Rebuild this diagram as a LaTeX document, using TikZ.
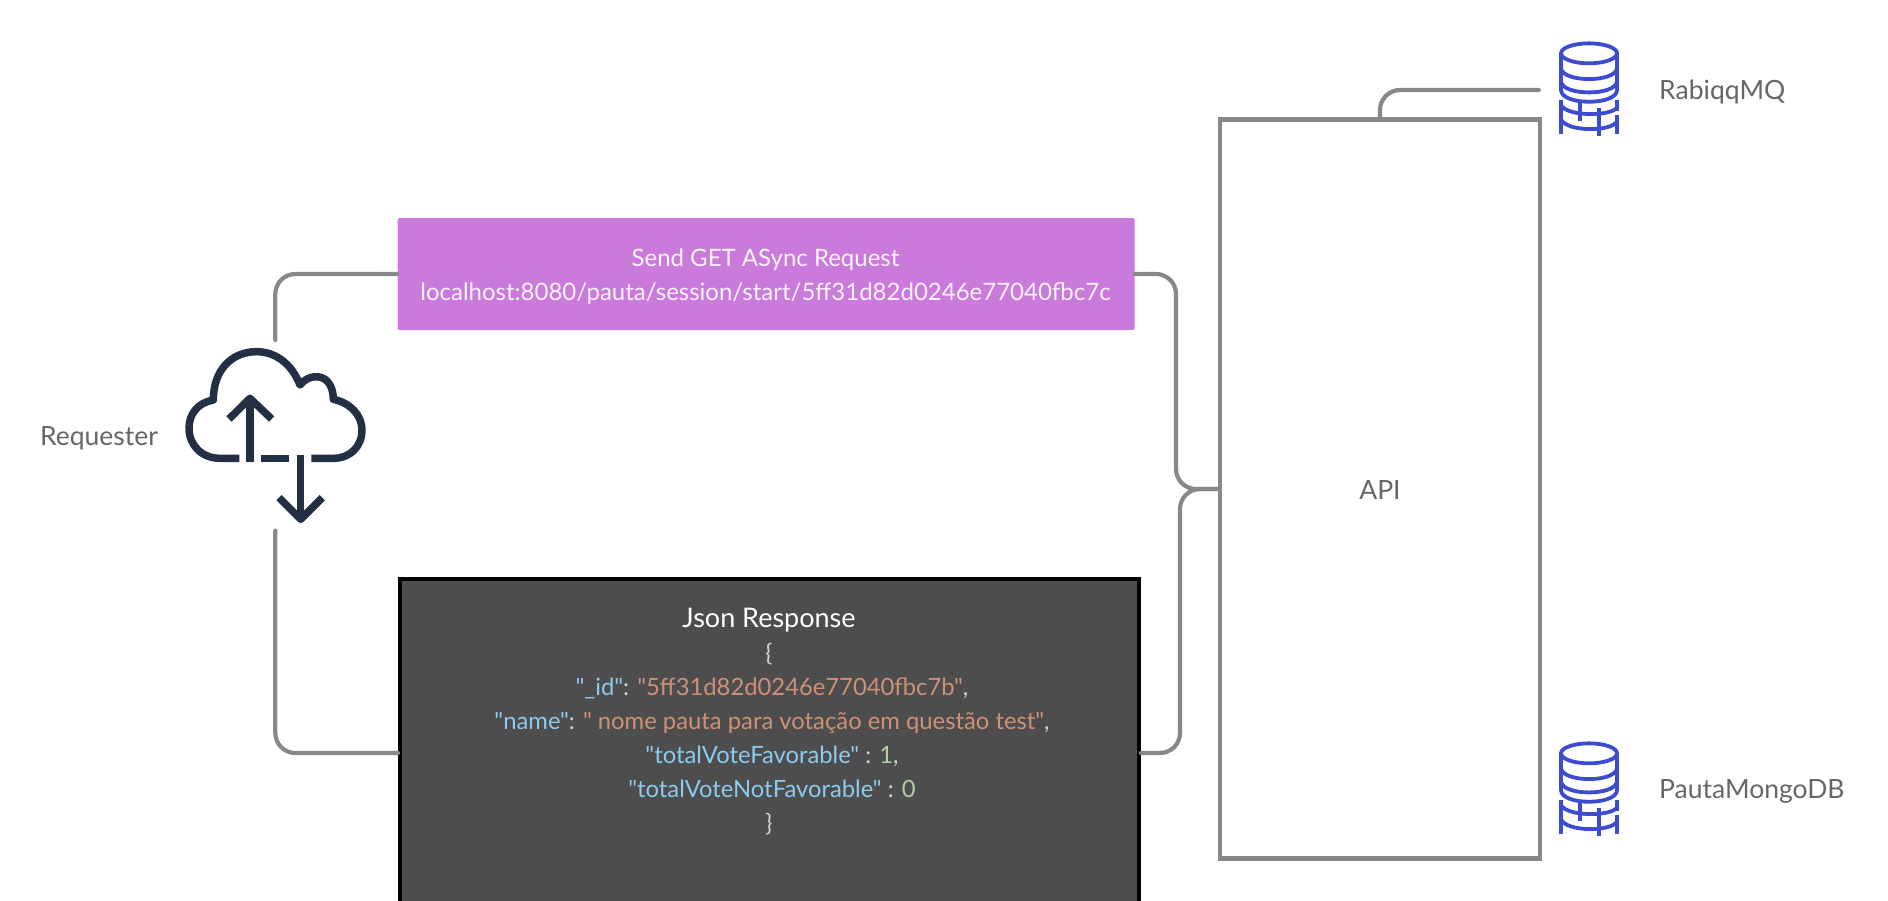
\documentclass[tikz,border=0pt]{standalone}
\usepackage{fontspec}
\setmainfont[Ligatures=TeXOff]{Lato}
\definecolor{LineClr}{HTML}{888888}
\definecolor{LabelClr}{HTML}{666666}
\definecolor{RequestClr}{HTML}{C97ADB}
\definecolor{ResponseClr}{HTML}{4D4D4D}
\definecolor{CloudClr}{HTML}{233044}
\definecolor{DbClr}{HTML}{3D4BCF}
\definecolor{KeyClr}{HTML}{8CCBEE}
\definecolor{StrClr}{HTML}{CE9178}
\definecolor{NumClr}{HTML}{B5CEA8}
\definecolor{PunctClr}{HTML}{D4D4D4}
\newcommand{\keytxt}[1]{\hspace*{6pt}\textcolor{KeyClr}{#1}}
\newcommand{\strtxt}[1]{\textcolor{StrClr}{#1}}
\newcommand{\numtxt}[1]{\textcolor{NumClr}{#1}}
\tikzset{
  label txt/.style={text=LabelClr,font=\fontsize{26.5}{30}\selectfont,inner sep=0pt},
  link/.style={draw=LineClr,line width=4.2pt,rounded corners=20pt,line cap=round},
  iconbox/.style={minimum width=100pt,minimum height=92pt,inner sep=0pt},
  dbicon/.pic={
    \begin{scope}[x=0.3333pt,y=-0.3333pt,shift={(-268,-210)},draw=DbClr,line width=3.8pt]
    \draw (268,100) ellipse [x radius=84,y radius=30];
    \draw (184,100) -- (184,210) .. controls (184,257) and (352,257) .. (352,210) -- (352,100);
    \draw (184,145) .. controls (190,188) and (346,188) .. (352,145);
    \draw (184,185) .. controls (190,228) and (346,228) .. (352,185);
    \draw (184,240) -- (184,342);
    \draw (352,240) -- (352,274) (352,286) -- (352,342);
    \draw (184,255) .. controls (200,290) and (336,290) .. (352,262);
    \draw (184,298) .. controls (200,336) and (336,336) .. (352,304);
    \draw (240,250) -- (240,302);
    \draw (297,264) -- (297,348);
    \end{scope}
  }
}
\begin{document}
\begin{tikzpicture}[x=1pt,y=-1pt]
\useasboundingbox (0,0) rectangle (1888,900);

% boxes
\node[draw=LineClr,line width=4.2pt,minimum width=320pt,minimum height=739pt,inner sep=0pt] (api) at (1380,489) {};
\node[label txt] (apilabel) at (1380,490) {API};

\node[fill=RequestClr,rounded corners=1.5pt,minimum width=737pt,minimum height=112pt,inner sep=0pt] (request) at (766,274) {};
\node[inner sep=0pt,text=white!90!RequestClr,font=\fontsize{24}{34}\selectfont,align=center] (requesttxt) at (765.5,276.5)
  {Send GET ASync Request\\localhost:8080/pauta/session/start/5ff31d82d0246e77040fbc7c};

\node[fill=ResponseClr,draw=black,line width=4pt,minimum width=739pt,minimum height=400pt,inner sep=0pt] (response) at (769.5,779) {};
\node[anchor=north,inner sep=0pt,align=center,text=PunctClr,font=\fontsize{23.8}{34}\selectfont] (responsetxt) at (769,608)
  {{\color{white}\fontsize{27}{34}\selectfont Json Response}\\
   \{\\
   \keytxt{"\_id"}: \strtxt{"5ff31d82d0246e77040fbc7b"},\\
   \keytxt{"name"}: \strtxt{" nome pauta para votação em questão test"},\\
   \keytxt{"totalVoteFavorable"} : \numtxt{1},\\
   \keytxt{"totalVoteNotFavorable"} : \numtxt{0}\\
   \}};

% databases
\node[iconbox] (rabbit) at (1589,90) {};
\node[iconbox] (mongo) at (1589,790) {};
\pic at (1589,90) {dbicon};
\pic at (1589,790) {dbicon};
\node[label txt,anchor=west] (rabbitlabel) at (1659,92) {RabiqqMQ};
\node[label txt,anchor=west] (mongolabel) at (1659,791) {PautaMongoDB};

% cloud
\begin{scope}[shift={(160,320)},x=0.3333pt,y=-0.3333pt,draw=CloudClr,line width=7.5pt,line join=round]
\draw (238,415) -- (180,415) .. controls (125,415) and (87,375) .. (87,325)
  .. controls (87,280) and (115,248) .. (160,240) .. controls (160,150) and (215,95) .. (290,95)
  .. controls (345,95) and (395,130) .. (420,195) .. controls (440,170) and (470,165) .. (490,175)
  .. controls (510,185) and (520,210) .. (520,238) .. controls (570,248) and (606,285) .. (606,330)
  .. controls (606,380) and (570,415) .. (520,415) -- (454,415);
\draw (303,415) -- (388,415);
\draw (270,427) -- (270,235);
\draw (207,297) -- (270,235) -- (335,297);
\draw (422,405) -- (422,595);
\draw (357,533) -- (422,598) -- (487,533);
\coordinate (cloudtop) at (346,60);
\coordinate (cloudbottom) at (346,632);
\end{scope}
\node[label txt] (requester) at (99,438) {Requester};

% connectors
\draw[link] (request.west |- 0,274) -| (cloudtop);
\draw[link] (cloudbottom) |- (response.west |- 0,753);
\draw[link] (request.east |- 0,274) -| (1176,489) -- (api.west);
\draw[link] (response.east |- 0,753) -| (1180,489) -- (api.west);
\draw[link] (api.north) |- (rabbit.west);
\end{tikzpicture}
\end{document}
